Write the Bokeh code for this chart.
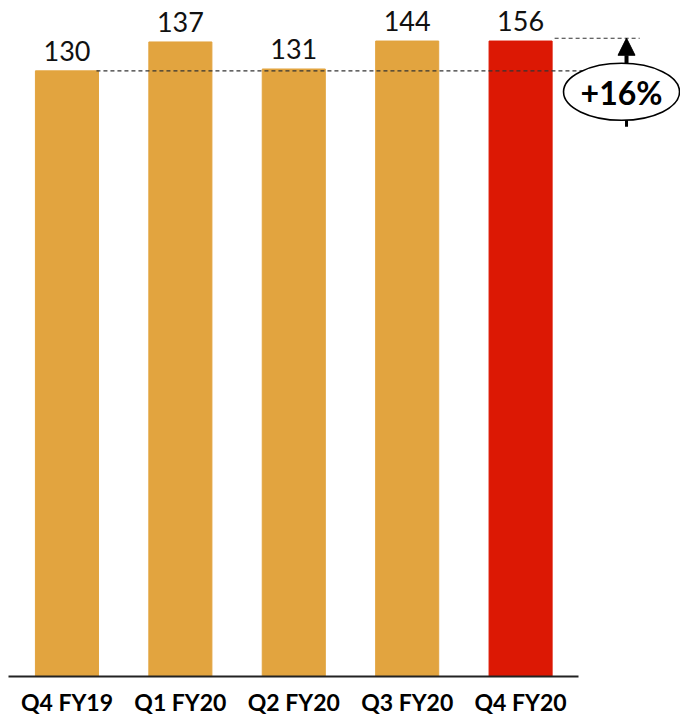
from bokeh.plotting import figure
from bokeh.models import Range1d, ColumnDataSource, Arrow, NormalHead, FixedTicker
from bokeh.core.properties import value
from bokeh.embed import file_html
from bokeh.resources import INLINE

# ---- data ----
categories = ["Q4 FY19", "Q1 FY20", "Q2 FY20", "Q3 FY20", "Q4 FY20"]
values = [130, 137, 131, 144, 156]
# heights at which the bars are drawn in the reference (its scale is not proportional)
bar_heights = [130, 136.2, 130.4, 136.4, 136.4]
bar_colors = ["#E2A43F", "#E2A43F", "#E2A43F", "#E2A43F", "#DC1804"]
growth_label = "+16%"

xs = list(range(len(categories)))
src = ColumnDataSource(dict(x=xs, top=bar_heights, color=bar_colors,
                            label=[str(v) for v in values]))

p = figure(width=680, height=718, output_backend="svg", toolbar_location=None,
           x_range=Range1d(-0.586, 5.41), y_range=Range1d(0, 145.1),
           min_border_left=0, min_border_right=0, min_border_top=0, min_border_bottom=38)
p.outline_line_color = None
p.grid.visible = False
p.yaxis.visible = False
p.background_fill_color = "white"
p.border_fill_color = "white"

p.vbar(x="x", top="top", width=0.556, bottom=0, color="color", source=src)

p.text(x="x", y="top", text="label", source=src, text_align="center",
       text_baseline="bottom", y_offset=-10, text_font=value("Lato"),
       text_font_size="27px", text_color="#111111")

# dashed reference lines
p.segment(x0=[xs[0] + 0.26], y0=[bar_heights[0]], x1=[4.58], y1=[bar_heights[0]],
          line_color="#333333", line_dash="4 3", line_width=1.2)
p.segment(x0=[4.30], y0=[137.0], x1=[5.05], y1=[137.0],
          line_color="#333333", line_dash="4 3", line_width=1.2)

# arrow stub below ellipse
p.segment(x0=[4.934], y0=[118.0], x1=[4.934], y1=[121.0], line_color="black", line_width=3)

# ellipse with growth text
p.ellipse(x=[4.89], y=[125.5], width=[116], height=[57], width_units="screen",
          height_units="screen", fill_color="white", line_color="black", line_width=1.6)
p.text(x=[4.89], y=[125.3], text=[growth_label], text_align="center",
       text_baseline="middle", text_font=value("Lato"), text_font_size="32px",
       text_font_style="bold", text_color="black")

# arrow above ellipse
p.add_layout(Arrow(end=NormalHead(size=17, fill_color="black", line_color="black"),
                   x_start=4.934, y_start=131.6, x_end=4.934, y_end=137.0,
                   line_color="black", line_width=4))

# x axis
ax = p.xaxis[0]
ax.ticker = FixedTicker(ticks=xs)
ax.major_label_overrides = {i: c for i, c in enumerate(categories)}
ax.major_label_text_font = "Lato"
ax.major_label_text_font_size = "23px"
ax.major_label_text_font_style = "bold"
ax.major_label_text_color = "black"
ax.major_tick_line_color = None
ax.minor_tick_line_color = None
ax.axis_line_color = "#222222"
ax.axis_line_width = 2
ax.major_label_standoff = 5
ax.bounds = (-0.516, 4.51)

open("out.html", "w").write(file_html(p, INLINE))
